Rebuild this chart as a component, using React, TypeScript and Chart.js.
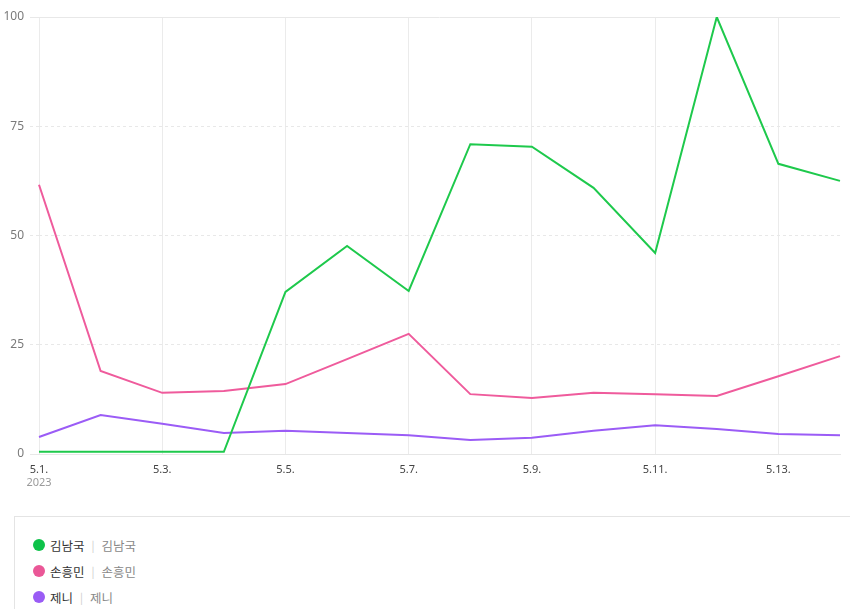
import React, { useEffect, useRef } from "react";
import { Chart, registerables } from "chart.js";

Chart.register(...registerables);

const categories = ["5.1.", "5.2.", "5.3.", "5.4.", "5.5.", "5.6.", "5.7.", "5.8.", "5.9.", "5.10.", "5.11.", "5.12.", "5.13.", "5.14."];
const yearLabel = "2023";
const seriesNames = ["김남국", "손흥민", "제니"];
const kimValues = [0.5, 0.5, 0.5, 0.5, 37.1, 47.6, 37.3, 70.9, 70.3, 60.9, 46, 100, 66.4, 62.5];
const sonValues = [61.6, 19, 14, 14.4, 16, 21.7, 27.5, 13.7, 12.8, 14, 13.7, 13.3, 17.8, 22.4];
const jennieValues = [3.9, 8.9, 6.9, 4.8, 5.3, 4.8, 4.3, 3.2, 3.7, 5.3, 6.6, 5.7, 4.6, 4.3];
const yTicks = [0, 25, 50, 75, 100];
const colors = ["#1ec94c", "#ef5b9c", "#9b5cf6"];
const dotColors = ["#0ec24a", "#ea5797", "#9a5cf5"];

const yearPlugin = {
  id: "yearLabel",
  afterDraw(chart: any) {
    const x = chart.scales.x;
    const ctx = chart.ctx;
    ctx.save();
    ctx.font = "11px 'Noto Sans', sans-serif";
    ctx.fillStyle = "#9a9a9a";
    ctx.textAlign = "center";
    ctx.textBaseline = "middle";
    ctx.fillText(yearLabel, x.getPixelForValue(0), chart.chartArea.bottom + 29);
    ctx.restore();
  },
};

export default function App() {
  const ref = useRef<HTMLCanvasElement>(null);
  useEffect(() => {
    const all = [kimValues, sonValues, jennieValues];
    const chart = new Chart(ref.current!, {
      type: "line",
      data: {
        labels: categories,
        datasets: all.map((d, i) => ({
          label: seriesNames[i],
          data: d,
          borderColor: colors[i],
          backgroundColor: colors[i],
          borderWidth: 2,
          pointRadius: 0,
          tension: 0,
          fill: false,
        })),
      },
      options: {
        animation: false,
        responsive: false,
        maintainAspectRatio: false,
        layout: { padding: { top: 17, right: 10, left: 0, bottom: 0 } },
        plugins: { legend: { display: false }, tooltip: { enabled: false } },
        scales: {
          x: {
            offset: false,
            afterFit: (s: any) => { s.height = 46; },
            grid: {
              color: (c: any) => (c.index % 2 === 0 ? "#ebebeb" : "rgba(0,0,0,0)"),
              drawTicks: false,
              lineWidth: 1,
            },
            border: { display: true, color: "#e6e6e6" },
            ticks: {
              autoSkip: false,
              maxRotation: 0,
              padding: 9,
              color: "#444",
              font: { size: 11, family: "'Noto Sans', sans-serif" },
              callback: (_v: any, i: number) => (i % 2 === 0 ? categories[i] : ""),
            },
          },
          y: {
            min: 0,
            max: 100,
            afterFit: (s: any) => { s.width = 39; },
            afterBuildTicks: (s: any) => { s.ticks = yTicks.map((v) => ({ value: v })); },
            grid: {
              color: "#e8e8e8",
              tickColor: "#e8e8e8",
              tickLength: 9,
              tickBorderDash: (c: any) => (c.tick && (c.tick.value === 0 || c.tick.value === 100) ? [] : [3, 3]),
              borderDash: (c: any) => (c.tick && (c.tick.value === 0 || c.tick.value === 100) ? [] : [3, 3]),
            } as any,
            border: {
              display: false,
              dash: (c: any) => (c.tick && (c.tick.value === 0 || c.tick.value === 100) ? [] : [3, 3]),
            } as any,
            ticks: {
              padding: 6,
              color: "#7a7a7a",
              font: { size: 12, family: "'Noto Sans', sans-serif" },
            },
          },
        },
      },
      plugins: [yearPlugin],
    });
    return () => chart.destroy();
  }, []);

  return (
    <div style={{ position: "absolute", left: 0, top: 0, width: 850, height: 609, overflow: "hidden", background: "#fff", fontFamily: "'Noto Sans CJK KR', sans-serif" }}>
      <canvas ref={ref} width={850} height={500} style={{ display: "block" }} />
      <div style={{ position: "absolute", left: 14, top: 516, width: 860, height: 120, border: "1px solid #e4e4e4", boxSizing: "border-box" }}>
        {seriesNames.map((n, i) => (
          <div key={n} style={{ position: "absolute", left: 18, top: 18 + i * 26, height: 20, display: "flex", alignItems: "center", fontSize: 12.5 }}>
            <span style={{ width: 12, height: 12, borderRadius: 6, background: dotColors[i], display: "inline-block", marginRight: 5 }} />
            <span style={{ color: "#333" }}>{n}</span>
            <span style={{ color: "#ccc", margin: "0 7px", fontSize: 11 }}>|</span>
            <span style={{ color: "#888" }}>{n}</span>
          </div>
        ))}
      </div>
    </div>
  );
}
